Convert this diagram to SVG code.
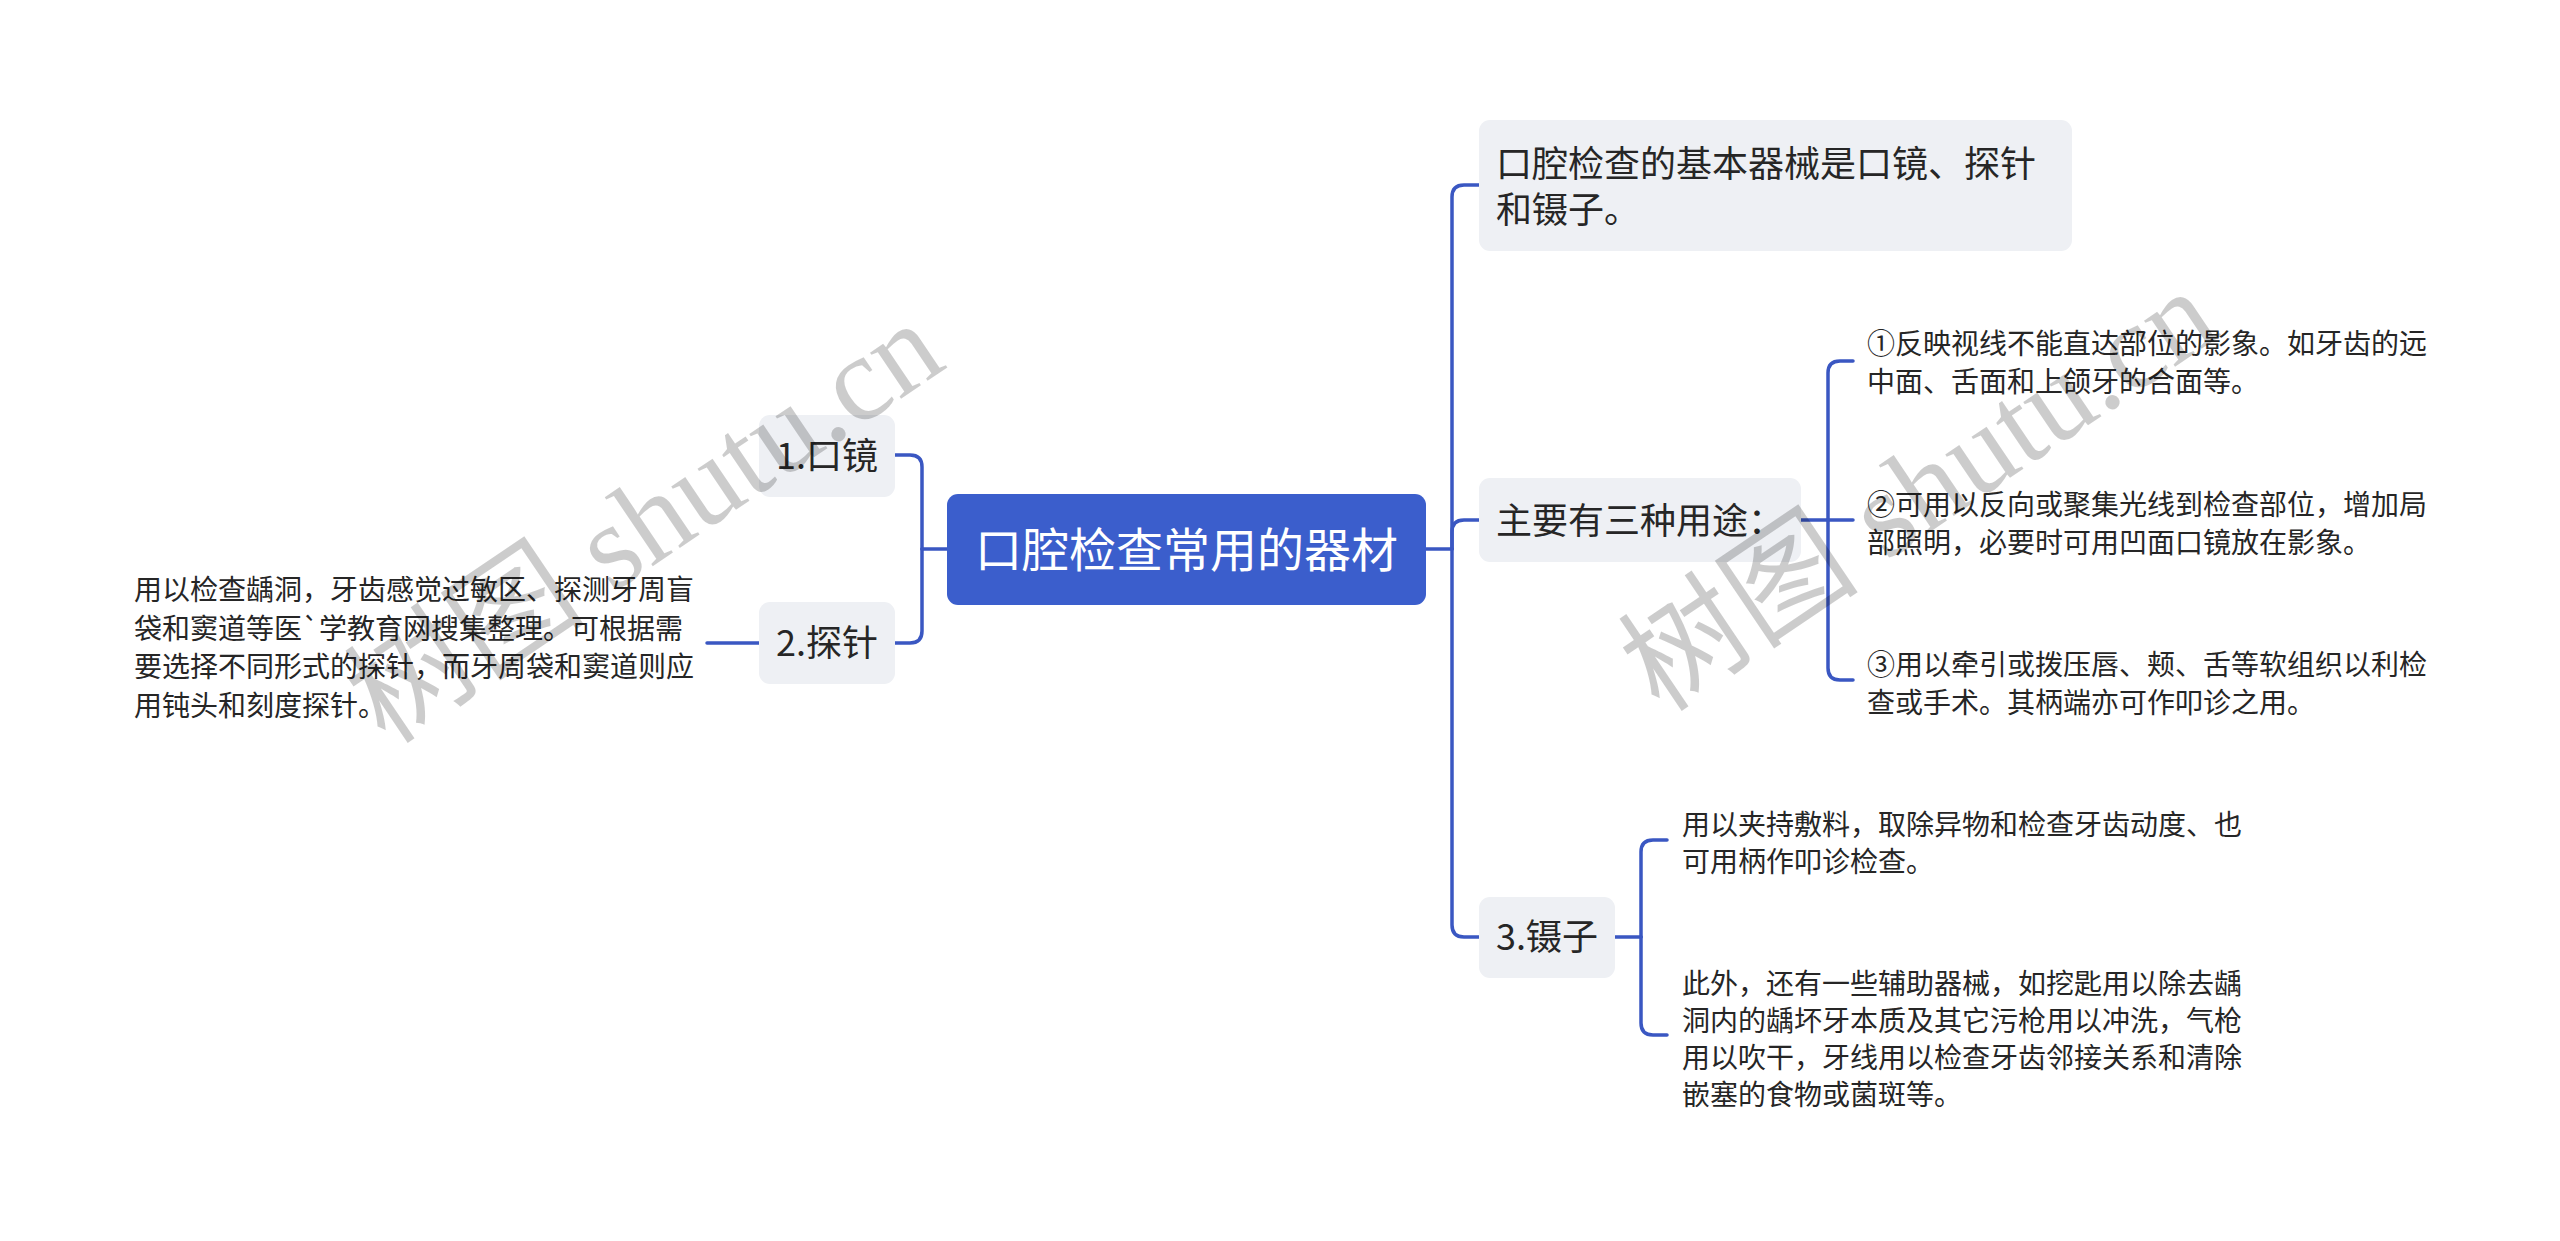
<svg xmlns="http://www.w3.org/2000/svg" width="2560" height="1241" viewBox="0 0 2560 1241">
<style>
.bg{fill:#ffffff}
.root rect{fill:#3b5ecc}
.root text{fill:#ffffff;font-size:47px;text-anchor:middle}
.n1 rect{fill:#eef0f4}
.n1 text{fill:#262626;font-size:36px}
.leaf text{fill:#262626;font-size:28px}
text{font-family:"Noto Sans CJK SC","Noto Sans",sans-serif}
.edges path{fill:none;stroke:#3a57c2;stroke-width:3.5;stroke-linecap:round;stroke-linejoin:round}
.wm{font-family:"Liberation Serif","Noto Sans CJK SC",serif;font-size:121px;fill:#000000;fill-opacity:0.2}
</style>
<rect class="bg" x="0" y="0" width="2560" height="1241"/>
<g class="edges" id="connectors">
  <path d="M947,549 H922"/>
  <path d="M922,549 V467 Q922,455 910,455 H895"/>
  <path d="M922,549 V631 Q922,643 910,643 H895"/>
  <path d="M759,643 H707"/>
  <path d="M1426,549 H1452"/>
  <path d="M1452,549 V197 Q1452,185 1464,185 H1479"/>
  <path d="M1452,549 V532 Q1452,520 1464,520 H1479"/>
  <path d="M1452,549 V925 Q1452,937 1464,937 H1479"/>
  <path d="M1801,520 H1828"/>
  <path d="M1828,520 V373 Q1828,361 1840,361 H1853"/>
  <path d="M1828,520 H1853"/>
  <path d="M1828,520 V668 Q1828,680 1840,680 H1853"/>
  <path d="M1615,937 H1641"/>
  <path d="M1641,937 V852 Q1641,840 1653,840 H1667"/>
  <path d="M1641,937 V1023 Q1641,1035 1653,1035 H1667"/>
</g>
<g id="root" class="root">
  <rect x="947" y="494" width="479" height="111" rx="11"/>
  <text x="1186.5" y="567">口腔检查常用的器材</text>
</g>
<g id="n-kj" class="n1">
  <rect x="759" y="415" width="136" height="82" rx="11"/>
  <text x="827" y="469" text-anchor="middle">1.口镜</text>
</g>
<g id="n-tz" class="n1">
  <rect x="759" y="602" width="136" height="82" rx="11"/>
  <text x="827" y="656" text-anchor="middle">2.探针</text>
</g>
<g id="leaf-tz" class="leaf">
  <text x="134" y="600">用以检查龋洞，牙齿感觉过敏区、探测牙周盲</text>
  <text x="134" y="638.5">袋和窦道等医`学教育网搜集整理。可根据需</text>
  <text x="134" y="677">要选择不同形式的探针，而牙周袋和窦道则应</text>
  <text x="134" y="715.5">用钝头和刻度探针。</text>
</g>
<g id="n-basic" class="n1">
  <rect x="1479" y="120" width="593" height="131" rx="11"/>
  <text x="1496" y="177">口腔检查的基本器械是口镜、探针</text>
  <text x="1496" y="223">和镊子。</text>
</g>
<g id="n-use" class="n1">
  <rect x="1479" y="478" width="322" height="84" rx="11"/>
  <text x="1496" y="534">主要有三种用途：</text>
</g>
<g id="leaf-use1" class="leaf">
  <text x="1867" y="354">①反映视线不能直达部位的影象。如牙齿的远</text>
  <text x="1867" y="391.5">中面、舌面和上颌牙的合面等。</text>
</g>
<g id="leaf-use2" class="leaf">
  <text x="1867" y="515">②可用以反向或聚集光线到检查部位，增加局</text>
  <text x="1867" y="552.5">部照明，必要时可用凹面口镜放在影象。</text>
</g>
<g id="leaf-use3" class="leaf">
  <text x="1867" y="675">③用以牵引或拨压唇、颊、舌等软组织以利检</text>
  <text x="1867" y="712.5">查或手术。其柄端亦可作叩诊之用。</text>
</g>
<g id="n-nz" class="n1">
  <rect x="1479" y="897" width="136" height="81" rx="11"/>
  <text x="1496" y="950">3.镊子</text>
</g>
<g id="leaf-nz1" class="leaf">
  <text x="1682" y="835">用以夹持敷料，取除异物和检查牙齿动度、也</text>
  <text x="1682" y="872">可用柄作叩诊检查。</text>
</g>
<g id="leaf-nz2" class="leaf">
  <text x="1682" y="994">此外，还有一些辅助器械，如挖匙用以除去龋</text>
  <text x="1682" y="1031">洞内的龋坏牙本质及其它污枪用以冲洗，气枪</text>
  <text x="1682" y="1068">用以吹干，牙线用以检查牙齿邻接关系和清除</text>
  <text x="1682" y="1105">嵌塞的食物或菌斑等。</text>
</g>
<g id="watermarks">
  <text class="wm" transform="translate(386,746) rotate(-34)">树图 shutu.cn</text>
  <text class="wm" transform="translate(1660,714) rotate(-34)">树图 shutu.cn</text>
</g>
</svg>
